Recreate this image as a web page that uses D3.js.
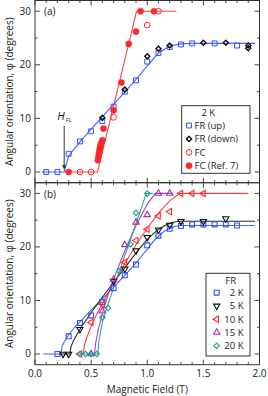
<!DOCTYPE html>
<html>
<head>
<meta charset="utf-8">
<script src="https://cdn.jsdelivr.net/npm/d3@7"></script>
<style>
  body { margin: 0; background: #fff; }
  svg { display: block; font-family: "Open Sans", sans-serif; }
</style>
</head>
<body>
<div id="chart"></div>
<script>
// field values in T, angle in degrees

// panel (a), 2 K
const frUp = [[0.1,0],[0.2,0],[0.3,3.4],[0.4,5.7],[0.5,7.6],[0.6,9.5],[0.7,12.2],[0.8,15.0],[0.9,17.1],[1.0,20.6],[1.1,22.2],[1.2,23.3],[1.3,23.8],[1.4,24.0],[1.6,24.0],[1.8,23.6]]
const frDown = [[0.6,10.1],[0.8,15.4],[1.0,21.6],[1.1,23.0],[1.2,23.6],[1.5,24.1],[1.7,24.1],[1.9,23.6],[1.9,23.1]]
const fcOpen = [[0.4,0],[0.5,0],[0.7,10.2],[1.0,27.4],[1.1,30.0]]
const fcRef7 = [[0.3,0],[0.56,2.2],[0.565,2.9],[0.57,3.5],[0.575,4.1],[0.58,4.6],[0.585,5.0],[0.59,5.4],[0.6,5.9],[0.61,8.1],[0.7,11.5],[0.77,16.7],[0.835,23.9],[0.9,26.2],[0.94,30.0],[1.06,30.0]]
const fitUpA = [[0.06,0],[0.26,0],[0.3,3.0],[0.4,5.6],[0.5,8.0],[0.6,10.3],[0.7,12.6],[0.8,14.9],[0.9,17.3],[1.0,19.8],[1.1,22.2],[1.2,23.5],[1.3,23.9],[1.4,24.0],[1.96,24.0]]
const fitFcA = [[0.27,0],[0.557,0],[0.905,30],[1.26,30]]
const hFL = 0.26

// panel (b), field-rotation at several temperatures
const temps = ["2 K", "5 K", "10 K", "15 K", "20 K"]
const d2K = [[0.2,0],[0.3,3.3],[0.4,5.8],[0.5,7.2],[0.6,9.7],[0.7,12.3],[0.8,14.7],[0.9,16.7],[1.0,20.3],[1.1,22.1],[1.2,23.4],[1.3,23.9],[1.4,24.2],[1.5,24.2],[1.6,24.2],[1.7,24.2],[1.8,24.0]]
const d5K = [[0.25,0],[0.3,0],[0.4,4.6],[0.7,13.6],[0.8,15.9],[0.9,19.3],[1.0,21.8],[1.1,23.2],[1.2,24.1],[1.3,24.8],[1.5,24.8],[1.7,25.3]]
const d10K = [[0.4,0],[0.5,5.9],[0.6,9.3],[0.8,17.1],[0.9,21.2],[1.0,23.3],[1.1,25.8],[1.2,26.6],[1.3,30],[1.4,30],[1.5,30]]
const d15K = [[0.5,0],[0.6,8.0],[0.7,13.9],[0.8,20.4],[0.9,24.6],[1.0,26.0],[1.1,30],[1.2,30]]
const d20K = [[0.4,0],[0.45,0],[0.5,0],[0.55,0],[0.6,6.8],[0.65,8.6],[0.75,15.5],[0.85,20.5],[0.9,26.4],[1.0,30]]
const fit2K = [[0.075,0],[0.23,0],[0.24,1.3],[0.26,2.3],[0.3,3.6],[0.35,4.9],[0.4,6.0],[0.5,8.2],[0.6,10.3],[0.7,12.5],[0.8,14.7],[0.9,17.0],[1.0,19.6],[1.05,20.9],[1.1,22.0],[1.15,22.9],[1.2,23.5],[1.25,23.85],[1.3,24.0],[1.96,24.0]]
const fit5K = [[0.22,0],[0.31,0],[0.32,1.3],[0.34,2.4],[0.37,3.5],[0.4,4.6],[0.5,7.7],[0.6,10.6],[0.7,13.4],[0.8,16.1],[0.9,18.9],[1.0,21.4],[1.05,22.4],[1.1,23.3],[1.15,23.9],[1.2,24.4],[1.25,24.7],[1.3,24.8],[1.96,24.8]]
const fit10K = [[0.37,0],[0.43,0],[0.44,1.6],[0.46,3.0],[0.5,5.2],[0.55,7.4],[0.6,9.4],[0.7,13.2],[0.8,16.9],[0.9,20.4],[1.0,23.5],[1.1,26.3],[1.2,28.6],[1.29,30],[1.9,30]]
const fit15K = [[0.47,0],[0.53,0],[0.54,2.0],[0.56,4.2],[0.6,7.6],[0.65,11.0],[0.7,14.0],[0.8,19.3],[0.9,24.0],[1.0,28.0],[1.07,30],[1.23,30]]
const fit20K = [[0.4,0],[0.56,0],[0.57,2.5],[0.59,4.8],[0.6,6.0],[0.65,9.3],[0.7,12.4],[0.75,15.4],[0.8,18.4],[0.85,21.3],[0.9,24.4],[0.95,27.4],[0.99,30],[1.05,30]]

const xTicks = [0, 0.5, 1.0, 1.5, 2.0]
const yTicks = [0, 10, 20, 30]

const width = 268, height = 396
const margin = {left: 35, right: 8.5}
const panelA = {top: 0.5, bottom: 182.7}
const panelB = {top: 182.7, bottom: 364.7}

const blue = "#3050ff", red = "#ff2828", black = "#111", purple = "#a030b0", teal = "#1a9c94"

let svg = d3.select("#chart").append("svg")
    .attr("width", width).attr("height", height)

let x = d3.scaleLinear().domain([0, 2]).range([margin.left, width - margin.right])
let yA = d3.scaleLinear().domain([-2, 32]).range([panelA.bottom, panelA.top])
let yB = d3.scaleLinear().domain([-2, 32]).range([panelB.bottom, panelB.top])

const sym = (type, size) => d3.symbol().type(type).size(size)()

// draws frame + inward ticks for one panel
function frame(y, p, labelsX) {
    let g = svg.append("g")
    const minorX = d3.range(0, 2.001, 0.1)
    const minorY = d3.range(0, 31, 5)
    const tk = (v, big) => big ? 5 : 2.5
    // bottom & top
    minorX.forEach(v => {
        let big = Math.abs(v * 2 - Math.round(v * 2)) < 1e-6
        g.append("line").attr("x1", x(v)).attr("x2", x(v))
            .attr("y1", p.bottom).attr("y2", p.bottom - tk(v, big))
        g.append("line").attr("x1", x(v)).attr("x2", x(v))
            .attr("y1", p.top).attr("y2", p.top + tk(v, big))
    })
    minorY.forEach(v => {
        let big = v % 10 == 0
        g.append("line").attr("x1", x(0)).attr("x2", x(0) + tk(v, big))
            .attr("y1", y(v)).attr("y2", y(v))
        g.append("line").attr("x1", x(2)).attr("x2", x(2) - tk(v, big))
            .attr("y1", y(v)).attr("y2", y(v))
    })
    g.selectAll("line").attr("stroke", "#333").attr("stroke-width", 0.9)
    g.append("rect").attr("x", x(0)).attr("y", p.top)
        .attr("width", x(2) - x(0)).attr("height", p.bottom - p.top)
        .attr("fill", "none").attr("stroke", "#333").attr("stroke-width", 1)
    g.selectAll(".yl").data(yTicks).join("text")
        .attr("x", x(0) - 4).attr("y", d => y(d) + 3.5)
        .attr("text-anchor", "end").attr("font-size", 10).attr("fill", "#222")
        .text(d => d)
    if (labelsX) {
        g.selectAll(".xl").data(xTicks).join("text")
            .attr("x", d => x(d)).attr("y", p.bottom + 12.5)
            .attr("text-anchor", "middle").attr("font-size", 10).attr("fill", "#222")
            .text(d => d.toFixed(1))
    }
    // y title
    let cy = (y(-2) + y(32)) / 2
    g.append("text").attr("transform", `translate(12.5, ${cy}) rotate(-90)`)
        .attr("text-anchor", "middle").attr("font-size", 10).attr("fill", "#222")
        .text("Angular orientation, φ (degrees)")
}

frame(yA, panelA, false)
frame(yB, panelB, true)

svg.append("text").attr("x", (x(0) + x(2)) / 2).attr("y", 393)
    .attr("text-anchor", "middle").attr("font-size", 10).attr("fill", "#222")
    .text("Magnetic Field (T)")

svg.append("text").attr("x", 44).attr("y", 15).attr("font-size", 10).attr("fill", "#222").text("(a)")
svg.append("text").attr("x", 44).attr("y", 198).attr("font-size", 10).attr("fill", "#222").text("(b)")

function fitLine(data, y, color) {
    svg.append("path").datum(data)
        .attr("d", d3.line().x(d => x(d[0])).y(d => y(d[1])))
        .attr("fill", "none").attr("stroke", color).attr("stroke-width", 1.1)
        .attr("stroke-opacity", 0.9)
}

function points(data, y, type, size, color, rot, filled, sw) {
    svg.append("g").selectAll("path").data(data).join("path")
        .attr("transform", d => `translate(${x(d[0])},${y(d[1])}) rotate(${rot})`)
        .attr("d", sym(type, size))
        .attr("fill", filled ? color : "none")
        .attr("stroke", color).attr("stroke-width", sw || (filled ? 0.5 : 1))
}

// panel (a)
fitLine(fitUpA, yA, blue)
fitLine(fitFcA, yA, red)
points(frUp, yA, d3.symbolSquare, 24, blue, 0)
points(frDown, yA, d3.symbolSquare, 13, black, 45, false, 1.4)
points(fcOpen, yA, d3.symbolCircle, 26, red, 0)
points(fcRef7, yA, d3.symbolCircle, 30, red, 0, true)

// H_FL arrow
svg.append("line").attr("x1", x(hFL)).attr("x2", x(hFL))
    .attr("y1", yA(0) - 46).attr("y2", yA(0) - 6)
    .attr("stroke", "#333").attr("stroke-width", 1)
svg.append("path")
    .attr("d", `M${x(hFL) - 2},${yA(0) - 7} L${x(hFL) + 2},${yA(0) - 7} L${x(hFL)},${yA(0) - 2}Z`)
    .attr("fill", "#333")
let hl = svg.append("text").attr("x", x(hFL) - 7).attr("y", yA(0) - 52).attr("font-size", 11).attr("fill", "#222")
hl.append("tspan").attr("font-style", "italic").text("H")
hl.append("tspan").attr("font-size", 6).attr("dy", 2).attr("dx", 1).text("FL")

// legend (a)
let legA = svg.append("g")
legA.append("rect").attr("x", 181.7).attr("y", 105.7).attr("width", 68.3).attr("height", 67.6)
    .attr("fill", "#fff").attr("stroke", "#333").attr("stroke-width", 1)
legA.append("text").attr("x", 208.3).attr("y", 116).attr("text-anchor", "middle")
    .attr("font-size", 9.5).attr("fill", "#222").text("2 K")
const legAItems = [
    ["FR (up)", d3.symbolSquare, 24, blue, false, 1, 0],
    ["FR (down)", d3.symbolSquare, 13, black, false, 1.4, 45],
    ["FC", d3.symbolCircle, 26, red, false, 1, 0],
    ["FC (Ref. 7)", d3.symbolCircle, 30, red, true, 0.5, 0]]
legAItems.forEach((it, i) => {
    let cy = 125.5 + i * 13.4
    legA.append("path").attr("transform", `translate(189,${cy}) rotate(${it[6]})`)
        .attr("d", sym(it[1], it[2]))
        .attr("fill", it[4] ? it[3] : "none").attr("stroke", it[3]).attr("stroke-width", it[5])
    legA.append("text").attr("x", 194.5).attr("y", cy + 3.4)
        .attr("font-size", 9.5).attr("fill", "#222").text(it[0])
})

// panel (b)
const seriesB = [
    {data: d2K, fit: fit2K, color: blue, type: d3.symbolSquare, size: 24, rot: 0},
    {data: d5K, fit: fit5K, color: black, type: d3.symbolTriangle, size: 17, rot: 180},
    {data: d10K, fit: fit10K, color: red, type: d3.symbolTriangle, size: 17, rot: -90},
    {data: d15K, fit: fit15K, color: purple, type: d3.symbolTriangle, size: 17, rot: 0},
    {data: d20K, fit: fit20K, color: teal, type: d3.symbolSquare, size: 15, rot: 45}]

seriesB.forEach(s => fitLine(s.fit, yB, s.color))
seriesB.forEach(s => points(s.data, yB, s.type, s.size, s.color, s.rot, false, 1.1))

// legend (b)
let legB = svg.append("g")
legB.append("rect").attr("x", 206).attr("y", 273.3).attr("width", 44).attr("height", 82.7)
    .attr("fill", "#fff").attr("stroke", "#333").attr("stroke-width", 1)
legB.append("text").attr("x", 230.7).attr("y", 283.5).attr("text-anchor", "middle")
    .attr("font-size", 9.5).attr("fill", "#222").text("FR")
seriesB.forEach((s, i) => {
    let cy = 292.7 + i * 13.25
    legB.append("path").attr("transform", `translate(216.7,${cy}) rotate(${s.rot})`)
        .attr("d", sym(s.type, s.size))
        .attr("fill", "none").attr("stroke", s.color).attr("stroke-width", 1.1)
    legB.append("text").attr("x", 243.5).attr("y", cy + 3.4).attr("text-anchor", "end")
        .attr("font-size", 9.5).attr("fill", "#222").text(temps[i])
})
</script>
</body>
</html>
